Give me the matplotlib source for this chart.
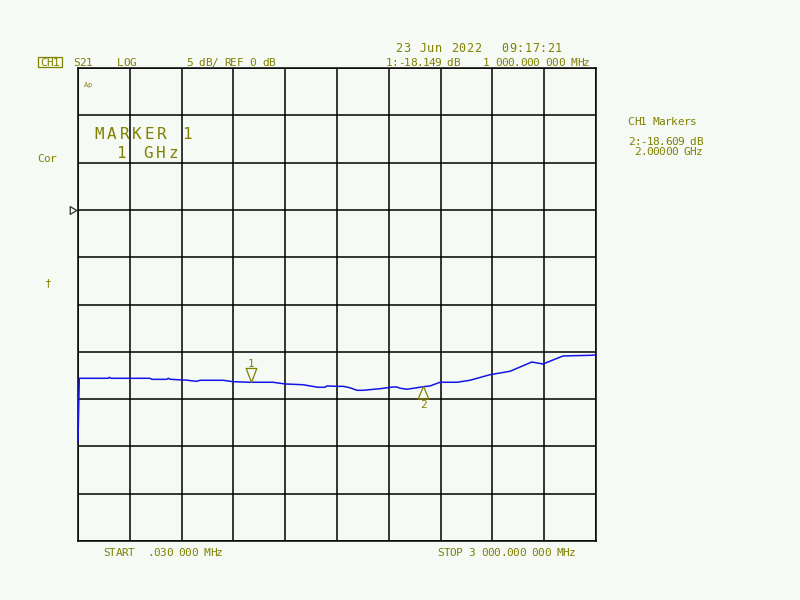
import numpy as np
import matplotlib
matplotlib.use("Agg")
import matplotlib.pyplot as plt
from matplotlib.path import Path
from matplotlib.patches import Rectangle

# ---------------- data ----------------
freq_ghz = [0.00003, 0.0075, 0.10, 0.174, 0.181, 0.191, 0.30, 0.417, 0.429, 0.514,
            0.523, 0.533, 0.602, 0.620, 0.687, 0.707, 0.840, 0.898, 0.996, 1.129,
            1.199, 1.303, 1.390, 1.430, 1.442, 1.500, 1.535, 1.575, 1.616, 1.650,
            1.749, 1.824, 1.847, 1.865, 1.905, 1.963, 1.998, 2.039, 2.097, 2.195,
            2.270, 2.386, 2.502, 2.628, 2.693, 2.809, 2.966, 3.000]
s21_db = [-24.5, -17.80, -17.80, -17.80, -17.70, -17.80, -17.80, -17.80, -17.91, -17.91,
          -17.80, -17.90, -17.98, -17.98, -18.12, -18.01, -18.01, -18.16, -18.22, -18.22,
          -18.40, -18.48, -18.75, -18.75, -18.61, -18.65, -18.65, -18.80, -19.07, -19.07,
          -18.90, -18.72, -18.72, -18.85, -18.96, -18.80, -18.69, -18.61, -18.22, -18.22,
          -18.01, -17.42, -17.06, -16.08, -16.29, -15.44, -15.37, -15.34]
marker_freq_ghz = [1.0, 2.0]
marker_db = [-18.149, -18.609]
marker_names = ["1", "2"]
start_ghz = 0.00003
stop_ghz = 3.0
ref_db = 0.0
scale_db = 5.0
ref_div_from_top = 3

W, H = 800, 600
OLIVE = "#808000"
BG = "#F5FAF5"
MONO = "DejaVu Sans Mono"

fig = plt.figure(figsize=(W / 100, H / 100), dpi=100, facecolor=BG)
ax = fig.add_axes([78 / W, (H - 541) / H, 518 / W, 473 / H])
ax.set_facecolor(BG)

top_db = ref_db + ref_div_from_top * scale_db
bot_db = top_db - 10 * scale_db
ax.set_xlim(start_ghz, stop_ghz)
ax.set_ylim(bot_db, top_db)
ax.set_xticks(np.linspace(start_ghz, stop_ghz, 11))
ax.set_yticks(np.linspace(bot_db, top_db, 11))
ax.tick_params(length=0, labelbottom=False, labelleft=False)
ax.grid(True, color="black", linewidth=1.1)
for sp in ax.spines.values():
    sp.set_color("black")
    sp.set_linewidth(1.1)

ax.plot(freq_ghz, s21_db, color="#1414E6", linewidth=1.1, clip_on=False, zorder=3)

# markers
down_tri = Path([(-0.38, 1), (0.38, 1), (0, 0), (-0.38, 1)],
                [Path.MOVETO, Path.LINETO, Path.LINETO, Path.CLOSEPOLY])
up_tri = Path([(-0.43, -1), (0.43, -1), (0, 0), (-0.43, -1)],
              [Path.MOVETO, Path.LINETO, Path.LINETO, Path.CLOSEPOLY])
ax.plot([marker_freq_ghz[0]], [marker_db[0]], marker=down_tri, markersize=20.2,
        markerfacecolor="none", markeredgecolor=OLIVE, markeredgewidth=0.9,
        linestyle="none", zorder=4)
ax.plot([marker_freq_ghz[1]], [marker_db[1]], marker=up_tri, markersize=18,
        markerfacecolor="none", markeredgecolor=OLIVE, markeredgewidth=0.9,
        linestyle="none", zorder=4)
ax.annotate(marker_names[0], xy=(marker_freq_ghz[0], marker_db[0]), xytext=(0, 18 * 0.72),
            textcoords="offset points", ha="center", va="center", fontsize=8,
            family=MONO, color=OLIVE)
ax.annotate(marker_names[1], xy=(marker_freq_ghz[1], marker_db[1]), xytext=(0, -19.5 * 0.72),
            textcoords="offset points", ha="center", va="center", fontsize=8,
            family=MONO, color=OLIVE)

# reference position marker
ref_tri = Path([(-1, 0.47), (-0.2, 0), (-1, -0.47), (-1, 0.47)],
               [Path.MOVETO, Path.LINETO, Path.LINETO, Path.CLOSEPOLY])
ax.plot([start_ghz], [ref_db], marker=ref_tri, markersize=11.9, markerfacecolor="none",
        markeredgecolor="#303030", markeredgewidth=0.9, linestyle="none", clip_on=False)


def mono(x0, yc, s, pitch, size=8, color=OLIVE):
    size_px = size / 72 * 100
    yb = yc + 0.365 * size_px
    for i, ch in enumerate(s):
        if ch == " ":
            continue
        fig.text((x0 + (i + 0.5) * pitch) / W, 1 - yb / H, ch, ha="center",
                 va="baseline", fontsize=size, family=MONO, color=color)


# header
mono(395, 47.3, "23 Jun 2022", 7.9, size=8.5)
mono(501, 47.3, "09:17:21", 7.65, size=8.5)
mono(40.5, 62, "CH1", 6.3)
fig.patches.append(Rectangle((38 / W, 1 - 66.7 / H), 24.3 / W, 9.4 / H, fill=False,
                             edgecolor=OLIVE, linewidth=0.9, transform=fig.transFigure))
mono(73.5, 62, "S21", 6.3)
mono(117.5, 62, "LOG", 6.3)
mono(186, 62, "5 dB/ REF 0 dB", 6.35)
mono(386, 62, "1:-18.149 dB", 6.1)
mono(482.5, 62, "1 000.000 000 MHz", 6.3)

# right panel
mono(628, 120.7, "CH1 Markers", 6.2)
mono(628, 141, "2:-18.609 dB", 6.2)
mono(628, 151, " 2.00000 GHz", 6.2)

# left annotations
mono(38, 158.3, "Cor", 6.0)
mono(44.3, 281.7, "\u2020", 6.0)
mono(84, 84, "Ap", 3.6, size=5)

# big marker text
mono(93, 132.8, "MARKER 1", 12.57, size=11.5)
mono(114.7, 152.5, "1", 12.5, size=11.5)
mono(142, 152.5, "GHz", 12.5, size=11.5)

# footer
mono(103, 552, "START  .030 000 MHz", 6.3)
mono(437.5, 552, "STOP 3 000.000 000 MHz", 6.27)

fig.savefig("out.png", dpi=100, facecolor=BG)
